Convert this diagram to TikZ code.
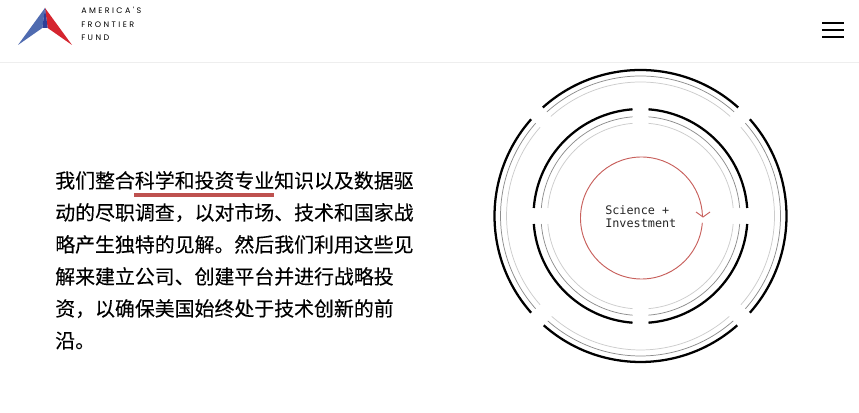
\documentclass[tikz,border=0pt]{standalone}
\usepackage{fontspec}
\setmainfont{Liberation Sans}
\newfontfamily\cjk[FakeBold=0.15]{Noto Sans CJK SC}
\newfontfamily\logofont[LetterSpace=30]{Poppins}
\newfontfamily\monofont{DejaVu Sans Mono}
\definecolor{logoblue}{HTML}{4F6BB0}
\definecolor{logored}{HTML}{D5252F}
\definecolor{logodark}{HTML}{2F3F98}
\definecolor{accent}{HTML}{BE514F}
\definecolor{ringred}{HTML}{C8605C}
\definecolor{ringmid}{HTML}{8C8C8C}
\definecolor{ringlight}{HTML}{CCCCCC}
\definecolor{hairline}{HTML}{EEEEEE}
\tikzset{
  blackring/.style={draw=black,line width=1.7pt},
  midring/.style={draw=ringmid,line width=.55pt},
  lightring/.style={draw=ringlight,line width=.55pt},
  redline/.style={draw=ringred,line width=.7pt},
  logotext/.style={anchor=base west,inner sep=0pt,font=\logofont\fontsize{6}{7}\selectfont},
  bar/.style={fill=black}
}
\begin{document}
\begin{tikzpicture}[x=.75pt,y=.75pt]
\useasboundingbox (0,0) rectangle (859,413);
\fill[white] (0,0) rectangle (859,413);
% header
\fill[hairline] (0,350) rectangle (859,351);
\fill[logoblue] (45,405) -- (18,368) -- (42.3,385) -- cycle;
\fill[logored] (45,405) -- (72,368) -- (47.7,385) -- cycle;
\fill[logodark] (45,405) -- (42.3,385) -- (47.7,385) -- cycle;
\node[logotext] (l1) at (81,399) {AMERICA'S};
\node[logotext] (l2) at (81,385.5) {FRONTIER};
\node[logotext] (l3) at (81,372) {FUND};
\fill[bar] (822,389) rectangle (844,391);
\fill[bar] (822,382) rectangle (844,384);
\fill[bar] (822,375) rectangle (844,377);
% paragraph
\fill[accent] (134,216) rectangle (273.5,220);
\node[anchor=base west,inner sep=0pt,align=left,font=\cjk\fontsize{14.93}{24}\selectfont] (para) at (55,65)
{我们整合科学和投资专业知识以及数据驱\\
动的尽职调查，以对市场、技术和国家战\\
略产生独特的见解。然后我们利用这些见\\
解来建立公司、创建平台并进行战略投\\
资，以确保美国始终处于技术创新的前\\
沿。};
% outer rings: four arcs separated by diagonal gaps
\coordinate (c) at (640.5,197);
\foreach \r/\s in {146/blackring,140/midring,134/lightring}{
  \draw[\s] (c) ++(48:\r) arc[start angle=48,end angle=132,radius=\r];
  \draw[\s] (c) ++(138.5:\r) arc[start angle=138.5,end angle=221.5,radius=\r];
  \draw[\s] (c) ++(228.5:\r) arc[start angle=228.5,end angle=311.5,radius=\r];
  \draw[\s] (c) ++(318.5:\r) arc[start angle=318.5,end angle=401.5,radius=\r];
}
% inner rings: four quadrants with straight gaps on the axes
\foreach \r/\s in {107/blackring,99.5/midring,93/lightring}{
  \pgfmathsetmacro{\g}{asin(8/\r)}
  \foreach \q in {0,90,180,270}{
    \draw[\s] (c) ++(\q+\g:\r) arc[start angle=\q+\g,end angle=\q+90-\g,radius=\r];
  }
}
% red cycle
\coordinate (rc) at (641.5,195);
\coordinate (tip) at (703,196);
\coordinate (wa) at (696,201);
\coordinate (wb) at (710,201);
\draw[redline] (rc) ++(-4.5:61) arc[start angle=-4.5,end angle=-359,radius=61];
\draw[redline] (wa) -- (tip) -- (wb);
\node[anchor=base west,inner sep=0pt,align=left,font=\monofont\fontsize{8.85}{9.5}\selectfont,text=black!85] (label) at (605,185.5)
{Science +\\Investment};
\end{tikzpicture}
\end{document}
